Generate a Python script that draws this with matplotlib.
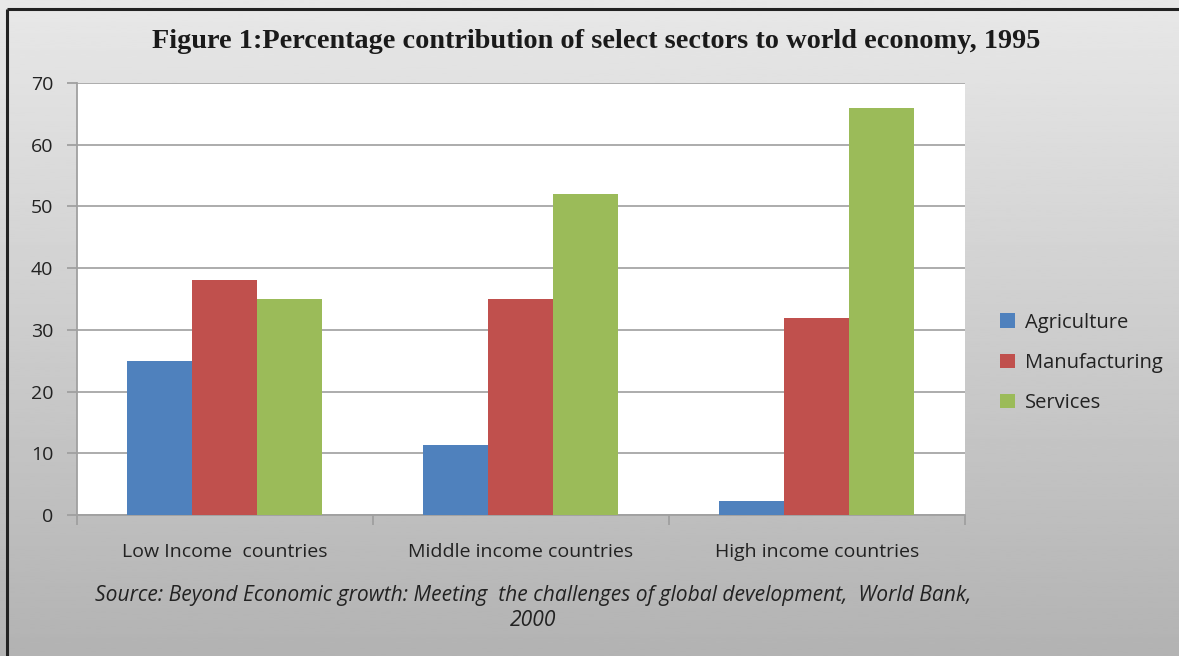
import numpy as np
import matplotlib
matplotlib.use("Agg")
import matplotlib.pyplot as plt
from matplotlib.lines import Line2D

categories = ["Low Income  countries", "Middle income countries", "High income countries"]
series_names = ["Agriculture", "Manufacturing", "Services"]
agriculture = [25, 11.3, 2.2]
manufacturing = [38, 35, 32]
services = [35, 52, 66]
yticks = [0, 10, 20, 30, 40, 50, 60, 70]

colors = ["#4f81bd", "#c0504d", "#9bbb59"]
sans = ["Open Sans", "DejaVu Sans"]

fig = plt.figure(figsize=(11.79, 6.56), dpi=100)

# gradient background
bg = fig.add_axes([0, 0, 1, 1], zorder=-10)
grad = np.linspace(0.92, 0.69, 256).reshape(-1, 1)
bg.imshow(grad, cmap="gray", vmin=0, vmax=1, aspect="auto", extent=[-0.05, 1.05, -0.05, 1.05])
bg.set_xlim(0, 1)
bg.set_ylim(0, 1)
bg.set_axis_off()
# frame (only top and left edges show)
fig.add_artist(Line2D([7 / 1179, 1.01], [1 - 8.5 / 656, 1 - 8.5 / 656], color="#222222",
                      lw=2.2, solid_capstyle="butt"))
fig.add_artist(Line2D([7 / 1179, 7 / 1179], [-0.01, 1 - 8.5 / 656], color="#222222",
                      lw=2.2, solid_capstyle="butt"))

ax = fig.add_axes([77 / 1179, 1 - 515 / 656, 888 / 1179, 432 / 656])
ax.set_facecolor("white")

x = np.arange(len(categories))
w = 65 / 296
for i, (vals, name) in enumerate(zip([agriculture, manufacturing, services], series_names)):
    ax.bar(x + (i - 1) * w, vals, width=w, color=colors[i], label=name, zorder=3)

ax.set_xlim(-0.5, 2.5)
ax.set_ylim(0, 70)
ax.set_yticks(yticks)
ax.set_yticklabels([str(t) for t in yticks], fontsize=14, family=sans, color="#222222")
ax.grid(axis="y", color="#a6a6a6", lw=1.3, zorder=0)
ax.set_xticks([-0.5, 0.5, 1.5, 2.5])
ax.set_xticklabels([])
ax.set_xticks(x, minor=True)
ax.set_xticklabels(categories, minor=True, fontsize=14, family=sans, color="#222222")
ax.tick_params(axis="x", which="minor", length=0, pad=20)
ax.tick_params(axis="x", which="major", length=7, color="#a0a0a0", width=1.3)
ax.tick_params(axis="y", length=7, color="#a0a0a0", width=1.3, pad=10)
for s in ["top", "right"]:
    ax.spines[s].set_visible(False)
for s in ["left", "bottom"]:
    ax.spines[s].set_color("#a0a0a0")
    ax.spines[s].set_linewidth(1.3)

leg = ax.legend(loc="center left", bbox_to_anchor=(1.03, 0.352), frameon=False,
                borderaxespad=0, prop={"family": sans, "size": 14.5},
                handlelength=0.75, handleheight=0.75,
                labelspacing=1.0, handletextpad=0.5)
for t in leg.get_texts():
    t.set_color("#222222")

fig.text(596 / 1179, 1 - 42 / 656,
         "Figure 1:Percentage contribution of select sectors to world economy, 1995",
         ha="center", va="center", fontsize=20.3, fontweight="bold",
         family="Liberation Serif", color="#1a1a1a")
fig.text(533 / 1179, 1 - 595 / 656,
         "Source: Beyond Economic growth: Meeting  the challenges of global development,  World Bank,",
         ha="center", va="center", fontsize=15.1, style="italic", family=sans, color="#222222")
fig.text(533 / 1179, 1 - 621 / 656, "2000",
         ha="center", va="center", fontsize=15.1, style="italic", family=sans, color="#222222")

fig.savefig("out.png", dpi=100)
